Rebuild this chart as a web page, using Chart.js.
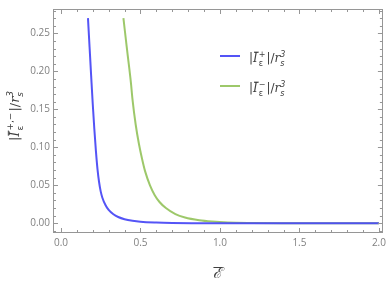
<!DOCTYPE html>
<html><head><meta charset="utf-8">
<script src="https://cdn.jsdelivr.net/npm/chart.js@4"></script>
<style>html,body{margin:0;padding:0;background:#fff}#wrap{width:390px;height:281px}</style>
</head><body><div id="wrap"><canvas id="c" width="390" height="281"></canvas></div>
<script>
// ---- data ----
const epsPlus = [0.17,0.18,0.19,0.20,0.21,0.22,0.23,0.24,0.25,0.26,0.28,0.30,0.33,0.36,0.40,0.45,0.50,0.60,0.70,0.85,1.0,1.5,2.0];
const iPlus   = [0.27,0.232,0.194,0.157,0.124,0.095,0.071,0.054,0.042,0.034,0.024,0.0175,0.0118,0.0083,0.0054,0.0033,0.002,0.0009,0.0004,0.00015,0.00006,0.00001,0.0];
const epsMinus = [0.393,0.40,0.42,0.44,0.45,0.47,0.49,0.51,0.53,0.56,0.59,0.62,0.66,0.72,0.78,0.87,0.95,1.05,1.2,1.4,1.7,2.0];
const iMinus   = [0.27,0.257,0.221,0.185,0.163,0.13,0.105,0.085,0.068,0.05,0.037,0.028,0.02,0.012,0.0075,0.0039,0.0022,0.001,0.0004,0.00012,0.00003,0.00001];
const xTicks = [0,0.5,1,1.5,2];
const xTickLabels = ['0.0','0.5','1.0','1.5','2.0'];
const yTicks = [0,0.05,0.1,0.15,0.2,0.25];
const yTickLabels = ['0.00','0.05','0.10','0.15','0.20','0.25'];

const BLUE = 'rgba(75,75,245,0.95)';
const GREEN = 'rgba(140,190,80,0.85)';
const FRAME = '#969696';

function rich(ctx, pieces, x, y, align) {
  let w = 0;
  const items = pieces.map(p => {
    ctx.font = p.font;
    let iw;
    if (p.stack) iw = Math.max(ctx.measureText(p.sub).width, ctx.measureText(p.sup).width) + (p.gap || 0);
    else iw = ctx.measureText(p.text).width + (p.gap || 0);
    w += iw; return {p, iw};
  });
  let cx = align === 'center' ? x - w / 2 : x;
  items.forEach(({p, iw}) => {
    ctx.font = p.font;
    if (p.stack) {
      ctx.fillText(p.sub, cx + (p.subdx||0), y + p.subdy);
      ctx.fillText(p.sup, cx + (p.supdx||0), y + p.supdy);
    } else {
      ctx.fillText(p.text, cx + (p.dx||0), y + (p.dy || 0));
      if (p.over) {
        const tw = ctx.measureText(p.text).width;
        ctx.save(); ctx.lineWidth = 1; ctx.strokeStyle = ctx.fillStyle;
        ctx.beginPath(); ctx.moveTo(cx + p.over[0], y + p.over[2]); ctx.lineTo(cx + tw + p.over[1], y + p.over[2]); ctx.stroke(); ctx.restore();
      }
    }
    cx += iw;
  });
}

function labelPieces(sz, sign) {
  const s = sz, ss = Math.round(sz * 0.68);
  return [
    {text:'|', font:`${s}px "DejaVu Sans"`},
    {text:'I', font:`italic ${s}px "DejaVu Serif"`, over:[1, 1, -s*0.82], gap:1},
    {stack:true, sub:'ε', sup:sign, font:`${ss}px "DejaVu Sans"`, subdy: s*0.3, supdy:-s*0.45, gap:1},
    {text:'|/', font:`${s}px "DejaVu Sans"`},
    {text:'r', font:`italic ${s}px "DejaVu Serif"`},
    {stack:true, sub:'s', sup:'3', font:`italic ${ss}px "DejaVu Sans"`, subdy: s*0.3, supdy:-s*0.45}
  ];
}

const framePlugin = {
  id: 'frame',
  afterDatasetsDraw(chart) {
    const {ctx, chartArea: a, scales: {x, y}} = chart;
    ctx.save();
    ctx.strokeStyle = FRAME; ctx.lineWidth = 1;
    ctx.strokeRect(Math.round(a.left) + 0.5, Math.round(a.top) + 0.5, Math.round(a.right - a.left) - 1, Math.round(a.bottom - a.top) - 1);
    ctx.beginPath();
    for (let k = 0; k <= 20; k++) {
      const v = k / 10; const px = Math.round(x.getPixelForValue(v)) + 0.5;
      const L = (k % 5 === 0) ? 5 : 3;
      ctx.moveTo(px, a.bottom); ctx.lineTo(px, a.bottom - L);
      ctx.moveTo(px, a.top); ctx.lineTo(px, a.top + L);
    }
    for (let k = -1; k <= 28; k++) {
      const v = k / 100; const py = Math.round(y.getPixelForValue(v)) + 0.5;
      const L = (k % 5 === 0) ? 5 : 3;
      ctx.moveTo(a.left, py); ctx.lineTo(a.left + L, py);
      ctx.moveTo(a.right, py); ctx.lineTo(a.right - L, py);
    }
    ctx.stroke();
    ctx.restore();
  },
  afterDraw(chart) {
    const {ctx, chartArea: a} = chart;
    ctx.save();
    const lx = 220, ly = [56, 86], cols = [BLUE, GREEN], signs = ['+', '−'];
    for (let i = 0; i < 2; i++) {
      ctx.strokeStyle = cols[i]; ctx.lineWidth = 2;
      ctx.beginPath(); ctx.moveTo(lx, ly[i]); ctx.lineTo(lx + 20, ly[i]); ctx.stroke();
      ctx.fillStyle = '#404040'; ctx.textBaseline = 'alphabetic';
      rich(ctx, labelPieces(12, signs[i]), 249, ly[i] + 6, 'left');
    }
    ctx.fillStyle = '#404040';
    ctx.font = 'italic 15px "DejaVu Serif"';
    const cx = (a.left + a.right) / 2;
    const tw = ctx.measureText('ℰ').width;
    ctx.fillText('ℰ', cx - tw / 2, 278);
    ctx.lineWidth = 1; ctx.strokeStyle = '#404040';
    ctx.beginPath(); ctx.moveTo(cx - tw / 2, 267.5); ctx.lineTo(cx + tw / 2, 267.5); ctx.stroke();
    ctx.translate(19, 116); ctx.rotate(-Math.PI / 2);
    rich(ctx, labelPieces(13, '+,−'), 0, 0, 'center');
    ctx.restore();
  }
};

const tickFont = {size: 10, family: '"Open Sans"'};
new Chart(document.getElementById('c'), {
  type: 'line',
  data: {
    datasets: [
      {data: epsPlus.map((e, i) => ({x: e, y: iPlus[i]})), borderColor: BLUE, borderWidth: 2, pointRadius: 0, cubicInterpolationMode: 'monotone', fill: false},
      {data: epsMinus.map((e, i) => ({x: e, y: iMinus[i]})), borderColor: GREEN, borderWidth: 2, pointRadius: 0, cubicInterpolationMode: 'monotone', fill: false}
    ]
  },
  options: {
    responsive: false, animation: false, devicePixelRatio: 1,
    layout: {padding: {top: 2, right: 4, left: 0, bottom: 0}},
    plugins: {legend: {display: false}, tooltip: {enabled: false}},
    scales: {
      x: {type: 'linear', min: -0.05, max: 2.025,
          afterBuildTicks: s => { s.ticks = xTicks.map(v => ({value: v})); },
          afterFit: s => { s.height = 48; },
          ticks: {callback: v => xTickLabels[xTicks.indexOf(v)], color: '#808080', font: tickFont, padding: 4, maxRotation: 0, autoSkip: false},
          grid: {display: false, drawTicks: false, tickLength: 0}, border: {display: false}},
      y: {type: 'linear', min: -0.0128, max: 0.282,
          afterBuildTicks: s => { s.ticks = yTicks.map(v => ({value: v})); },
          afterFit: s => { s.width = 53; },
          ticks: {callback: v => yTickLabels[yTicks.indexOf(v)], color: '#808080', font: tickFont, padding: 3, autoSkip: false},
          grid: {display: false, drawTicks: false, tickLength: 0}, border: {display: false}}
    }
  },
  plugins: [framePlugin]
});
</script></body></html>
